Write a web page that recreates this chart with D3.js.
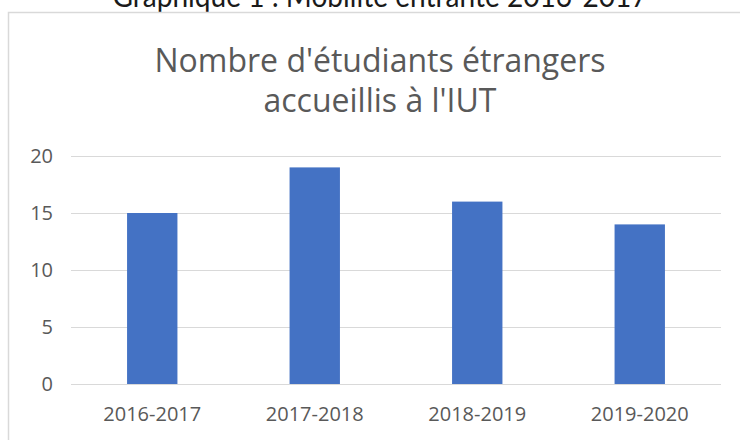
<!DOCTYPE html>
<html><head><meta charset="utf-8">
<script src="https://cdn.jsdelivr.net/npm/d3@7"></script>
<style>html,body{margin:0;padding:0;background:#fff;}svg{display:block;}</style>
</head><body>
<svg id="c" width="740" height="440"></svg>
<script>
const categories = ["2016-2017", "2017-2018", "2018-2019", "2019-2020"];
const values = [15, 19, 16, 14];
const yTicks = [0, 5, 10, 15, 20];
const caption = "Graphique 1 : Mobilité entrante 2016-2017";
const titleLines = ["Nombre d'étudiants étrangers", "accueillis à l'IUT"];

const svg = d3.select("#c");
const font = "'Open Sans', 'Liberation Sans', sans-serif";

svg.append("text").attr("x", 380).attr("y", 7).attr("text-anchor", "middle")
  .attr("font-family", "'Lato', 'Liberation Sans', sans-serif").attr("font-size", 30).attr("fill", "#1a1a1a")
  .attr("textLength", 535).attr("lengthAdjust", "spacingAndGlyphs")
  .text(caption);

// chart box border
svg.append("path").attr("d", "M8.5,440 V12.5 H740").attr("fill", "none").attr("stroke", "#d9d9d9").attr("stroke-width", 1.5);

svg.selectAll(".t").data(titleLines).join("text")
  .attr("x", 380).attr("y", (d, i) => 72 + i * 40).attr("text-anchor", "middle")
  .attr("font-family", font).attr("font-size", 32).attr("fill", "#595959").text(d => d);

const x = d3.scaleBand().domain(categories).range([71, 721]).paddingInner(0.69).paddingOuter(0.345);
const y = d3.scaleLinear().domain([0, 20]).range([384, 156]);

const yAxis = d3.axisLeft(y).tickValues(yTicks).tickSize(-650).tickPadding(18);
const gy = svg.append("g").attr("transform", "translate(71,0)").call(yAxis);
gy.select(".domain").remove();
gy.selectAll(".tick line").attr("stroke", "#d9d9d9").attr("stroke-width", 1);
gy.selectAll(".tick text").attr("font-family", font).attr("font-size", 20).attr("fill", "#595959");

svg.selectAll(".bar").data(values).join("rect")
  .attr("x", (d, i) => x(categories[i])).attr("width", x.bandwidth())
  .attr("y", d => y(d)).attr("height", d => y(0) - y(d)).attr("fill", "#4472c4");

const xAxis = d3.axisBottom(x).tickSize(0).tickPadding(23);
const gx = svg.append("g").attr("transform", "translate(0,384)").call(xAxis);
gx.select(".domain").remove();
gx.selectAll(".tick text").attr("font-family", font).attr("font-size", 20).attr("fill", "#595959");
</script>
</body></html>
